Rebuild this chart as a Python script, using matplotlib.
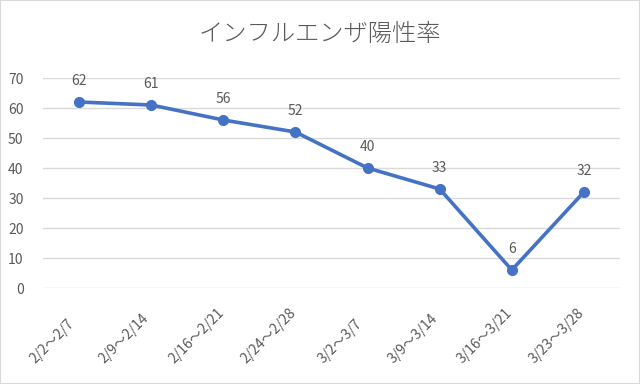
import matplotlib
matplotlib.use("Agg")
import matplotlib.pyplot as plt
from matplotlib.patches import Rectangle

plt.rcParams['font.family'] = ['Noto Sans CJK JP', 'DejaVu Sans']

categories = ["2/2〜2/7", "2/9〜2/14", "2/16〜2/21", "2/24〜2/28",
              "3/2〜3/7", "3/9〜3/14", "3/16〜3/21", "3/23〜3/28"]
values = [62, 61, 56, 52, 40, 33, 6, 32]
yticks = [0, 10, 20, 30, 40, 50, 60, 70]
title = "インフルエンザ陽性率"

text_color = "#595959"
line_color = "#4472C4"

fig = plt.figure(figsize=(6.4, 3.84), dpi=100)
ax = fig.add_axes([43/640, 1-288/384, (620-43)/640, (288-78)/384])

x = list(range(len(categories)))
ax.plot(x, values, color=line_color, lw=2.6, marker='o', ms=7, zorder=3)
for xi, v in zip(x, values):
    ax.annotate(str(v), (xi, v), xytext=(0, 10), textcoords='offset points',
                ha='center', va='bottom', fontsize=10, color=text_color)

ax.set_xlim(-0.5, len(categories)-0.5)
ax.set_ylim(0, 70)
ax.set_yticks(yticks)
ax.set_yticklabels([str(t) for t in yticks], fontsize=10, color=text_color)
ax.set_xticks(x)
ax.set_xticklabels([])
for xi, lab in zip(x, categories):
    ax.annotate(lab, (xi, 0), xytext=(-27, -78), textcoords='offset pixels',
                ha='center', va='bottom', rotation=45, fontsize=10,
                color=text_color, annotation_clip=False)
ax.tick_params(axis='both', length=0)
ax.tick_params(axis='y', pad=14)
ax.grid(axis='y', color='#d9d9d9', lw=1)
ax.set_axisbelow(True)
for s in ax.spines.values():
    s.set_visible(False)

fig.text(0.5, 1-34/384, title, ha='center', va='center', fontsize=17.5,
         fontweight='light', color=text_color)
fig.patches.append(Rectangle((0, 0), 1, 1, transform=fig.transFigure, fill=False,
                             edgecolor='#d9d9d9', lw=1.5))

fig.savefig("out.png", dpi=100)
